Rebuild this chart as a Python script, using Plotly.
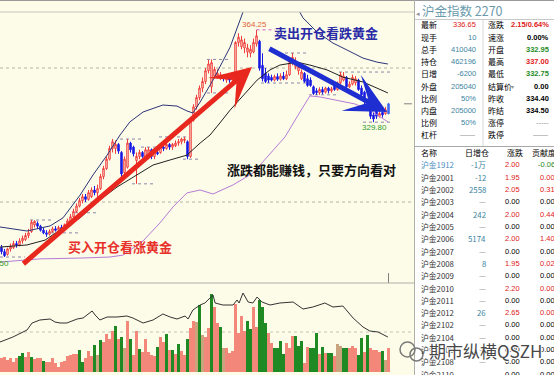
import plotly.graph_objects as go

W, H = 554, 375

# ---------------- 沪金指数 daily candles ----------------
open_ = [283.0, 281.5, 280.5, 282.5, 283.0, 284.5, 284.0, 285.5, 286.0, 287.5,
         289.0, 291.5, 292.0, 291.0, 289.5, 288.5, 288.0, 289.0, 290.0, 289.5,
         290.5, 290.0, 291.5, 293.0, 294.5, 296.5, 298.5, 300.5, 302.0, 301.0,
         302.0, 304.5, 303.5, 305.0, 309.5, 312.5, 316.0, 320.0, 320.0, 321.5,
         318.5, 311.0, 313.0, 322.0, 320.5, 315.5, 317.0, 318.5, 317.0, 318.0,
         319.5, 317.0, 318.5, 318.5, 320.5, 320.0, 321.5, 320.5, 321.0, 322.0,
         322.5, 323.0, 322.5, 317.0, 330.5, 335.5, 339.0, 342.5, 345.0, 349.0,
         343.0, 347.0, 347.0, 346.5, 347.0, 345.5, 346.0, 345.5, 346.5, 359.5,
         358.0, 357.5, 356.0, 355.5, 356.0, 359.0, 360.0, 351.0, 348.0, 347.0,
         346.5, 345.5, 346.8, 345.8, 347.0, 346.0, 347.5, 352.0, 350.5, 349.0,
         346.0, 348.0, 346.0, 345.5, 343.0, 341.5, 340.8, 342.0, 341.0, 342.5,
         341.5, 344.0, 342.0, 344.5, 345.5, 346.5, 343.0, 344.0, 344.5, 345.5,
         342.5, 341.0, 337.5, 336.0, 332.5, 334.0, 332.0, 333.5, 333.0, 332.95]
high = [284.0, 282.5, 283.0, 284.5, 285.5, 285.5, 286.5, 287.5, 288.5, 290.0,
        293.3, 293.2, 292.8, 291.5, 290.5, 289.5, 289.8, 290.8, 291.0, 291.2,
        291.5, 292.0, 293.8, 295.5, 297.5, 299.5, 301.5, 303.0, 303.0, 304.5,
        305.5, 306.0, 306.5, 310.5, 313.5, 317.0, 321.0, 323.5, 323.0, 322.0,
        319.0, 317.0, 323.5, 322.5, 321.0, 318.5, 319.5, 319.0, 320.5, 320.5,
        320.0, 319.5, 320.5, 321.5, 322.0, 322.5, 322.0, 322.0, 323.0, 323.5,
        324.0, 324.3, 323.0, 331.0, 336.5, 340.0, 343.5, 346.5, 350.0, 353.0,
        353.2, 350.5, 349.5, 348.5, 347.5, 347.0, 347.0, 347.5, 360.0, 363.0,
        362.0, 361.0, 359.0, 358.5, 361.0, 364.25, 360.5, 355.5, 350.0, 348.0,
        347.5, 347.5, 348.0, 348.0, 348.5, 349.0, 353.5, 355.6, 354.0, 351.5,
        349.5, 348.5, 347.5, 346.5, 343.5, 342.5, 342.8, 343.0, 343.0, 343.0,
        343.0, 344.8, 345.0, 348.5, 348.5, 347.0, 345.0, 347.5, 347.0, 346.0,
        343.5, 341.5, 338.5, 336.5, 333.5, 335.0, 334.5, 334.5, 335.5, 337.0]
low = [280.5, 279.5, 280.0, 281.5, 282.5, 283.0, 283.5, 284.5, 285.5, 286.5,
       288.5, 290.5, 290.0, 289.0, 288.0, 287.0, 287.5, 288.5, 289.0, 289.0,
       289.2, 289.5, 291.0, 292.5, 294.0, 296.0, 298.0, 299.5, 300.0, 300.5,
       301.5, 302.5, 301.0, 304.5, 308.5, 312.0, 315.5, 318.5, 318.0, 318.0,
       309.5, 310.5, 312.5, 318.5, 317.0, 306.8, 316.0, 316.5, 316.5, 316.0,
       316.0, 316.0, 317.5, 318.0, 319.0, 319.5, 319.5, 319.5, 320.5, 321.0,
       321.5, 322.0, 316.0, 316.5, 330.0, 334.5, 338.0, 341.0, 344.0, 348.0,
       340.7, 346.0, 346.0, 345.5, 345.0, 344.5, 344.5, 344.5, 346.0, 358.0,
       357.0, 355.5, 354.0, 354.0, 355.5, 358.0, 349.0, 345.0, 344.4, 344.5,
       345.0, 345.0, 345.2, 345.3, 345.5, 345.5, 347.0, 351.0, 349.5, 347.5,
       345.5, 344.5, 343.0, 343.0, 340.0, 340.0, 340.0, 340.2, 340.5, 340.5,
       340.8, 341.5, 341.5, 344.0, 345.0, 342.0, 342.5, 343.5, 343.5, 341.5,
       339.0, 336.5, 335.0, 331.0, 329.8, 331.0, 331.5, 331.5, 332.5, 332.75]
close = [281.5, 280.0, 282.5, 283.5, 284.5, 284.0, 285.5, 286.5, 287.5, 288.5,
         292.5, 292.8, 291.0, 289.5, 288.5, 288.0, 289.0, 290.0, 289.5, 290.5,
         290.0, 291.5, 293.0, 294.5, 296.5, 298.5, 300.5, 302.0, 301.0, 303.5,
         304.5, 303.5, 305.0, 309.5, 312.5, 316.0, 320.0, 322.5, 321.5, 319.0,
         310.5, 316.0, 322.0, 319.5, 318.0, 317.0, 318.5, 317.0, 319.5, 319.5,
         317.0, 318.5, 318.0, 320.5, 320.0, 321.5, 320.5, 321.5, 322.0, 322.5,
         323.5, 323.5, 317.0, 330.0, 335.5, 339.0, 342.5, 345.0, 349.0, 351.5,
         352.0, 349.5, 348.0, 347.5, 346.0, 346.5, 345.5, 347.0, 359.5, 361.5,
         360.5, 359.5, 357.5, 357.0, 359.5, 362.0, 350.0, 346.0, 345.0, 345.5,
         345.5, 346.8, 345.8, 347.0, 346.0, 347.5, 352.0, 354.0, 352.5, 350.5,
         348.5, 345.0, 343.5, 343.5, 340.5, 340.8, 342.0, 341.0, 342.5, 341.5,
         342.2, 342.0, 344.5, 347.5, 347.0, 343.0, 344.0, 346.5, 346.0, 342.0,
         340.0, 337.5, 336.0, 332.0, 331.0, 332.0, 333.0, 332.5, 334.4, 336.65]
N = len(close)
days = list(range(N))

# Bollinger bands: (day index, price)
boll_up_x = [-0.5, 8.5, 16.2, 20.5, 26.2, 30.5, 35.2, 39.5, 42.8, 47.2, 53.8, 58.5, 61.8, 63.8,
             66.2, 70.5, 76.2, 80.5, 84.5, 92.8, 97.8, 100.5, 105.2, 110.5, 115.2, 120.5, 125.2, 128.8]
boll_up_y = [290.7, 289.2, 291.1, 294.1, 302.6, 310.1, 317.5, 325.0, 329.9, 333.6, 336.2, 335.8, 334.0, 333.2,
             337.3, 345.5, 357.8, 370.9, 377.2, 379.1, 374.2, 368.7, 363.4, 359.3, 356.7, 353.7, 352.2, 351.5]
boll_mid_x = [-0.5, 8.5, 14.5, 19.5, 26.2, 32.8, 38.5, 45.2, 50.5, 56.2, 61.8, 66.2, 69.5, 72.8,
              76.2, 85.2, 89.5, 92.8, 98.5, 102.8, 108.5, 113.8, 120.5, 128.8]
boll_mid_y = [283.2, 284.0, 285.8, 289.6, 294.1, 300.8, 305.6, 310.1, 313.8, 315.7, 317.5, 322.0, 325.0, 329.5,
              334.3, 345.5, 349.3, 351.1, 352.2, 351.1, 349.3, 346.6, 344.8, 340.7]
boll_dn_x = [-0.5, 12.8, 26.2, 36.2, 40.5, 47.2, 52.8, 57.2, 61.8, 66.2, 70.5, 77.2, 83.8, 88.5,
             94.5, 99.5, 102.8, 106.2, 112.8, 117.8, 122.8, 128.8]
boll_dn_y = [277.6, 278.8, 279.1, 279.5, 280.2, 285.5, 292.2, 298.2, 303.4, 304.5, 303.0, 306.4, 310.8, 316.8,
             324.3, 333.6, 339.6, 339.2, 337.7, 336.6, 334.3, 329.9]

# Volume (万手) and bar colour class: S = up, G = down, T = flat
volume_wan = [23.8, 25.5, 20.4, 23.8, 17.0, 23.8, 27.2, 32.3, 25.5, 34.0,
              25.5, 22.1, 23.8, 23.8, 18.7, 17.0, 17.0, 23.8, 15.3, 8.5,
              17.0, 18.7, 27.2, 28.9, 30.6, 30.6, 37.4, 17.0, 23.8, 35.7,
              27.2, 45.9, 28.9, 54.4, 51.0, 64.6, 56.1, 69.7, 78.2, 56.1,
              59.5, 40.8, 86.7, 56.1, 28.9, 69.7, 39.1, 34.0, 56.1, 34.0,
              28.9, 27.2, 42.5, 59.5, 51.0, 64.6, 37.4, 37.4, 30.6, 47.6,
              35.7, 28.9, 56.1, 74.8, 86.7, 85.0, 113.9, 62.9, 59.5, 74.8,
              132.6, 110.5, 83.3, 76.5, 40.8, 40.8, 32.3, 35.7, 115.6, 66.3,
              95.2, 69.7, 86.7, 73.1, 110.5, 76.5, 122.4, 110.5, 83.3, 66.3,
              49.3, 40.8, 40.8, 52.7, 30.6, 49.3, 40.8, 61.2, 61.2, 44.2,
              52.7, 15.3, 42.5, 40.8, 40.8, 66.3, 30.6, 42.5, 32.3, 32.3,
              32.3, 27.2, 47.6, 44.2, 40.8, 40.8, 40.8, 44.2, 40.8, 28.9,
              57.8, 34.0, 62.9, 40.8, 37.4, 37.4, 34.0, 35.7, 20.4, 41.0]
vol_dir = list("SSSSSSGGSS" "GSSSGSSSSS" "SSSSSSGGSS" "SGTGSSSSGS" "GTSGSSGSSS"
               "SSGSSGSGSG" "SSGSSTGTSS" "GSSGTSSSSS" "SSGGSSGGGS" "SGGGGSSSGG"
               "GSSGGGSGSG" "GSTTGGSSSG" "GSGSSSSGTS")

# Open interest line (day index, lots)
oi_x = [-0.5, 3.8, 8.5, 10.2, 12.8, 16.2, 17.8, 19.5, 21.8, 25.2, 27.2, 30.2, 31.2, 32.8, 35.2, 38.5,
        41.8, 43.8, 47.2, 50.5, 53.8, 56.2, 58.5, 61.2, 62.2, 63.8, 66.2, 67.8, 69.5, 70.5, 71.2, 73.8,
        77.2, 78.5, 79.2, 80.5, 82.2, 83.8, 85.2, 86.8, 89.5, 92.8, 97.2, 100.5, 103.8, 107.8, 110.5,
        113.8, 117.2, 120.5, 122.8, 125.5, 128.8]
oi_y = [440000, 465000, 500000, 535000, 550000, 555000, 540000, 535000, 535000, 555000, 560000, 595000,
        575000, 550000, 565000, 565000, 570000, 560000, 535000, 550000, 580000, 565000, 555000, 570000,
        555000, 600000, 625000, 635000, 660000, 675000, 635000, 625000, 625000, 650000, 635000, 685000,
        640000, 635000, 665000, 640000, 625000, 635000, 640000, 605000, 615000, 635000, 615000, 620000,
        560000, 515000, 495000, 490000, 465000]

# Quote panel
title_name = "沪金指数"
title_code = "2270"
left_labels = ["最新", "现手", "总手", "持仓", "日增", "外盘", "比例", "内盘", "比例", "杠杆"]
left_values = ["336.65", "10", "410040", "462196", "-6200", "205040", "50%", "205000", "50%", "——"]
left_kinds = ["up", "n", "n", "n", "n", "n", "n", "n", "n", "na"]
right_labels = ["涨跌", "速涨", "开盘", "最高", "最低", "结算价", "昨收", "昨结", "涨停", "跌停"]
right_values = ["2.15/0.64%", "0.00%", "332.95", "337.00", "332.75", "0.00", "334.40", "334.50", "-----", "——"]
right_kinds = ["up", "flat", "down", "up", "down", "flat", "flat", "flat", "na", "na"]

contract_names = ["沪金1912", "沪金2001", "沪金2002", "沪金2003", "沪金2004", "沪金2005", "沪金2006",
                  "沪金2007", "沪金2008", "沪金2009", "沪金2010", "沪金2011", "沪金2012", "沪金2102",
                  "沪金2104", "沪金2106", "沪金2108", "沪金2110"]
oi_change = ["-1万", "-12", "2558", "—", "242", "—", "5174", "—", "8", "—", "—", "—", "26", "—", "—",
             "—", "—", "—"]
chg = [2.00, 1.95, 2.05, 0.00, 2.00, 0.00, 2.00, 0.00, 1.95, 0.00, 2.20, 0.00, 2.65, 0.00, 0.00, 0.00,
       0.00, 0.00]
contrib = [-0.06, 0.00, 0.31, 0.00, 0.44, 0.00, 1.40, 0.00, 0.02, 0.00, 0.00, 0.00, 0.00, 0.00, 0.00,
           0.00, 0.00, 0.00]

# ---------------- styling ----------------
CREAM = "#FCFCE8"
RED = "#F03C3C"
BLUE = "#1A1AE6"
CJK = "Noto Sans CJK SC"
NUM = "Liberation Sans, Noto Sans CJK SC"
CHART_R = 414  # px

def px(x):
    return x / W

def py(y):
    return 1 - y / H

fig = go.Figure()

fig.add_trace(go.Candlestick(
    x=days[:-1], open=open_[:-1], high=high[:-1], low=low[:-1], close=close[:-1],
    increasing=dict(line=dict(color=RED, width=1), fillcolor=CREAM),
    decreasing=dict(line=dict(color=BLUE, width=1), fillcolor=BLUE),
    whiskerwidth=0, showlegend=False, hoverinfo="skip", xaxis="x", yaxis="y"))
fig.add_trace(go.Candlestick(
    x=days[-1:], open=open_[-1:], high=high[-1:], low=low[-1:], close=close[-1:],
    increasing=dict(line=dict(color="#3C6CF0", width=1), fillcolor="#3C6CF0"),
    decreasing=dict(line=dict(color="#3C6CF0", width=1), fillcolor="#3C6CF0"),
    showlegend=False, hoverinfo="skip", xaxis="x", yaxis="y"))

for bx, by, col in [(boll_up_x, boll_up_y, "#2C3478"), (boll_mid_x, boll_mid_y, "#222222"),
                    (boll_dn_x, boll_dn_y, "#B77BD8")]:
    fig.add_trace(go.Scatter(x=bx, y=by, mode="lines", line=dict(color=col, width=1),
                             showlegend=False, hoverinfo="skip", xaxis="x", yaxis="y"))

dir_color = {"S": "#F2877A", "G": "#1F8A24", "T": "#C9A47C"}
fig.add_trace(go.Bar(x=days, y=volume_wan, marker=dict(color=[dir_color[d] for d in vol_dir], line=dict(width=0)),
                     width=0.7, showlegend=False, hoverinfo="skip", xaxis="x2", yaxis="y2"))
fig.add_trace(go.Scatter(x=oi_x, y=oi_y, mode="lines", line=dict(color="#333333", width=1),
                         showlegend=False, hoverinfo="skip", xaxis="x2", yaxis="y3"))

xrange = [-0.5, -0.5 + CHART_R / 3]
main_dom = [py(283), py(12)]
vol_dom = [0, py(283)]
ax_common = dict(visible=False, fixedrange=True)
fig.update_layout(
    width=W, height=H, margin=dict(l=0, r=0, t=0, b=0),
    paper_bgcolor=CREAM, plot_bgcolor=CREAM, bargap=0,
    xaxis=dict(domain=[0, px(CHART_R)], range=xrange, rangeslider=dict(visible=False), **ax_common),
    xaxis2=dict(domain=[0, px(CHART_R)], range=xrange, anchor="y2", **ax_common),
    yaxis=dict(domain=main_dom, range=[269.8, 370.9], **ax_common),
    yaxis2=dict(domain=vol_dom, range=[-5.1, 151.3], anchor="x2", **ax_common),
    yaxis3=dict(domain=vol_dom, range=[275000, 735000], overlaying="y2", anchor="x2", **ax_common),
)

shapes = []
# right quote panel background
shapes.append(dict(type="rect", xref="paper", yref="paper", x0=px(415), x1=1, y0=0, y1=1,
                   fillcolor="white", line=dict(width=0), layer="below"))
# dotted price grid lines and volume grid line
for lvl in (350, 300):
    shapes.append(dict(type="line", xref="x", yref="y", x0=xrange[0], x1=xrange[1], y0=lvl, y1=lvl,
                       line=dict(color="#B4B4A4", width=1, dash="dot"), layer="below"))
shapes.append(dict(type="line", xref="x2", yref="y2", x0=xrange[0], x1=xrange[1], y0=68, y1=68,
                   line=dict(color="#C4C4B4", width=1, dash="dot"), layer="below"))

# consolidation box lines computed from highs/lows
box_tops = [(10, 17), (40, 46), (47, 52), (53, 61), (69, 75), (95, 101), (113, 129)]
box_bottoms = [(17, 26), (25, 32), (44, 50), (61, 66), (69, 75), (87, 101), (103, 112)]
BOX = dict(color="#8E86AA", width=1, dash="dot")
for a, b in box_tops:
    v = max(high[a:b + 1])
    shapes.append(dict(type="line", xref="x", yref="y", x0=a - 0.5, x1=b + 0.5, y0=v, y1=v, line=BOX, layer="below"))
for a, b in box_bottoms:
    v = min(low[a:b + 1])
    shapes.append(dict(type="line", xref="x", yref="y", x0=a - 0.5, x1=b + 0.5, y0=v, y1=v, line=BOX, layer="below"))

# extreme markers
hi_i = high.index(max(high))
shapes.append(dict(type="line", xref="x", yref="y", x0=hi_i, x1=hi_i + 6.2, y0=high[hi_i], y1=high[hi_i],
                   line=dict(color="#D060C8", width=1, dash="dot")))
lo_i = low.index(min(low[100:]), 100)
shapes.append(dict(type="line", xref="x", yref="y", x0=lo_i - 3.5, x1=N - 0.5, y0=low[lo_i], y1=low[lo_i],
                   line=dict(color="#8E86AA", width=1, dash="dot")))
lo0 = low.index(min(low[:20]))
shapes.append(dict(type="line", xref="x", yref="y", x0=-0.5, x1=7.8, y0=low[lo0], y1=low[lo0],
                   line=dict(color="#8E86AA", width=1, dash="dot")))
# last price marker on the right edge and cursor tick
shapes.append(dict(type="line", xref="x", yref="y", x0=134.2, x1=136.8, y0=close[-1], y1=close[-1],
                   line=dict(color="#808080", width=1)))
shapes.append(dict(type="line", xref="x", yref="y", x0=N - 1, x1=N - 1, y0=269.8, y1=273.5,
                   line=dict(color="#808080", width=1)))

# frame lines
LG = "#B0B0A8"
shapes += [
    dict(type="line", xref="paper", yref="paper", x0=0, x1=1, y0=py(0.5), y1=py(0.5), line=dict(color="#9A9A9A", width=1)),
    dict(type="line", xref="paper", yref="paper", x0=0, x1=px(CHART_R), y0=py(12), y1=py(12), line=dict(color="#C8C8BC", width=1)),
    dict(type="line", xref="paper", yref="paper", x0=0, x1=px(CHART_R), y0=py(283), y1=py(283), line=dict(color=LG, width=1)),
    dict(type="line", xref="paper", yref="paper", x0=px(CHART_R + 0.5), x1=px(CHART_R + 0.5), y0=0, y1=1, line=dict(color=LG, width=1)),
    dict(type="line", xref="paper", yref="paper", x0=px(415), x1=1, y0=py(19.5), y1=py(19.5), line=dict(color="#C8C8C8", width=1)),
    dict(type="line", xref="paper", yref="paper", x0=px(483), x1=px(483), y0=py(20), y1=py(146), line=dict(color="#D8D8D8", width=1)),
    dict(type="line", xref="paper", yref="paper", x0=px(415), x1=1, y0=py(146.5), y1=py(146.5), line=dict(color="#A8A8A8", width=1)),
]
# watermark icon (two bubbles)
shapes += [
    dict(type="circle", xref="paper", yref="paper", x0=px(400), x1=px(415), y0=py(357), y1=py(342),
         line=dict(color="#7A7A7A", width=1.5)),
    dict(type="circle", xref="paper", yref="paper", x0=px(410), x1=px(423), y0=py(361), y1=py(348),
         line=dict(color="#7A7A7A", width=1.5)),
]

ann = []

def txt(x, y, s, color="#000000", size=8, anchor="left", family=CJK):
    ann.append(dict(x=px(x), y=py(y), xref="paper", yref="paper", text=s, showarrow=False,
                    xanchor=anchor, yanchor="middle", font=dict(family=family, size=size, color=color)))

# arrows
red_tail, red_head = (6.8, 276.5), (83.5, 350.4)
blue_tail, blue_head = (88.8, 357.5), (128.5, 333.6)
for (tx, ty), (hx, hy), col in [(red_tail, red_head, "#E8281E"), (blue_tail, blue_head, "#1E2ED0")]:
    ann.append(dict(x=hx, y=hy, ax=tx, ay=ty, xref="x", yref="y", axref="x", ayref="y", text="",
                    showarrow=True, arrowhead=3, arrowsize=1.35, arrowwidth=5, arrowcolor=col))

# chart labels
txt(254, 24.5, f"{high[hi_i]:.2f}", "#E0603A", 8, "center", NUM)
txt(374, 127, f"{low[lo_i]:.2f}", "#2E9A2E", 8, "center", NUM)
txt(11, 263, f"{low[lo0]:.2f}", "#2E9A2E", 8, "right", NUM)
txt(326, 32.5, "<b>卖出开仓看跌黄金</b>", "#2B2BA8", 13, "center")
txt(311.5, 169, "<b>涨跌都能赚钱，只要方向看对</b>", "#111111", 13, "center")
txt(120, 247, "<b>买入开仓看涨黄金</b>", "#E8302A", 13, "center")

# quote panel
TEAL = "#3C84A0"
kind_col = {"up": "#E02020", "down": "#1E8C1E", "flat": "#000000", "n": TEAL, "na": "#909090"}
txt(420, 11, f"{title_name} {title_code}", "#6A9BAC", 12.5, "left")
txt(414, 13, "◂", "#909090", 7, "left")
row_y = [25 + 12.2 * k for k in range(len(left_labels))]
for k, yv in enumerate(row_y):
    txt(419, yv, left_labels[k], "#000000", 8)
    txt(478, yv, left_values[k], kind_col[left_kinds[k]], 7.5, "right", NUM)
    txt(486, yv, right_labels[k], "#000000", 8)
    txt(551, yv, "<b>" + right_values[k] + "</b>" if right_kinds[k] != "na" else right_values[k],
        kind_col[right_kinds[k]], 7.5, "right", NUM)
txt(509, row_y[5], "▾", "#909090", 6, "left")

txt(419, 152.5, "名称", "#000000", 8)
txt(463, 152.5, "日增仓", "#000000", 8)
txt(505, 152.5, "涨跌", "#000000", 8)
txt(530, 152.5, "贡献度", "#000000", 8)
for k, name in enumerate(contract_names):
    yv = 165 + 12.3 * k
    txt(419, yv, name, "#4A8CC0" if k == 0 else "#333333", 7.8)
    txt(488, yv, oi_change[k], TEAL if oi_change[k] != "—" else "#909090", 7.8, "right")
    txt(522, yv, f"{chg[k]:.2f}", "#E02020" if chg[k] > 0 else "#000000", 7.5, "right", NUM)
    ccol = "#1E8C1E" if contrib[k] < 0 else ("#E02020" if chg[k] > 0 else "#000000")
    txt(557, yv, f"{contrib[k]:.2f}", ccol, 7.5, "right", NUM)

# watermark with white halo
wm = "期市纵横QSZH"
for dx, dy in [(-1, 0), (1, 0), (0, -1), (0, 1)]:
    txt(427 + dx, 350 + dy, wm, "white", 17)
txt(427, 350, wm, "#484848", 17)

fig.update_layout(shapes=shapes, annotations=ann)
fig.write_html("out.html", config={"displayModeBar": False},
               post_script="document.body.style.margin='0';document.body.style.padding='0';document.body.style.overflow='hidden';")
